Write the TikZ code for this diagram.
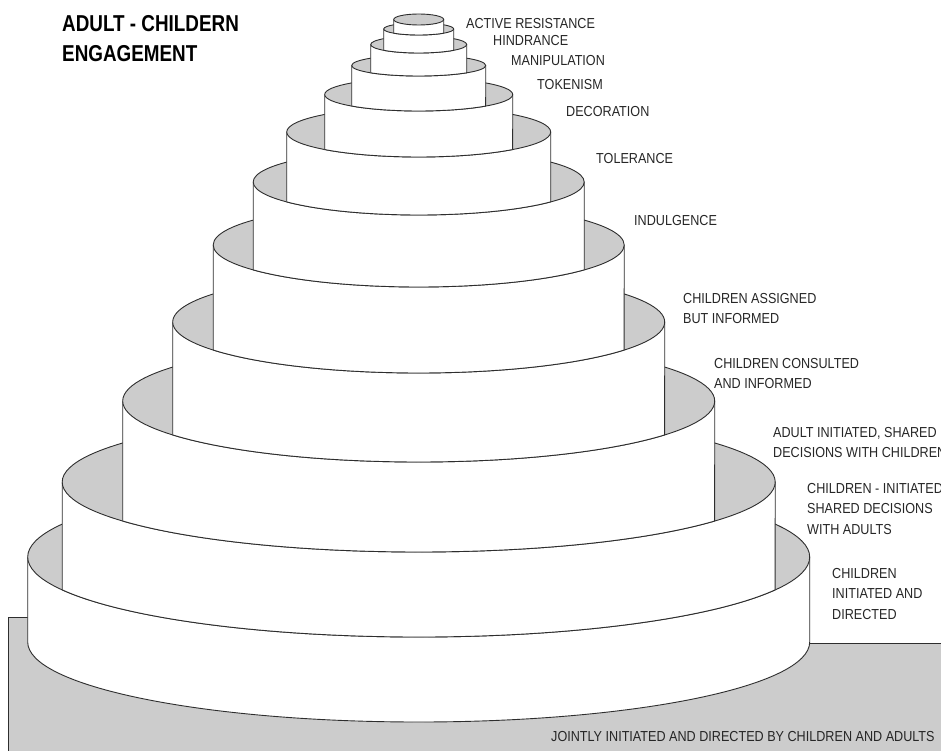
\documentclass[tikz,border=0pt]{standalone}
\usepackage{fontspec}
\newfontfamily\lblfont[FakeStretch=0.87]{Liberation Sans}
\newfontfamily\ttlfont[FakeStretch=0.82]{Liberation Sans}
\tikzset{
  edge/.style={draw=black!82, line width=0.9pt, line join=round},
  wallfill/.style={edge, fill=white},
  topfill/.style={edge, fill=black!20},
  lbl/.style={anchor=north west, inner sep=0pt, align=left, text=black!85,
    font=\lblfont\fontsize{14.5}{20.5}\selectfont},
  ttl/.style={anchor=north west, inner sep=0pt, align=left, text=black,
    font=\ttlfont\bfseries\fontsize{23}{30}\selectfont}
}
\begin{document}
\begin{tikzpicture}[x=1pt,y=1pt]
\useasboundingbox (0,0) rectangle (941,-751);
\begin{scope}
\clip (0,0) rectangle (941,-751);
\def\cx{418.7}
% ground plane
\path[topfill] (8,-617) -- (\cx,-617) -- (\cx,-643) -- (970,-643) -- (970,-790) -- (8,-790) -- cycle;
% bottom tier
\path[wallfill] (\cx-391,-557) -- (\cx-391,-642)
  arc[start angle=180, end angle=360, x radius=391, y radius=80]
  -- (\cx+391,-557) -- cycle;
\path[topfill] (\cx,-557) ellipse[x radius=391, y radius=80];
% upper tiers
\foreach \pr/\pt/\pb/\r/\t/\b in {
  391/557/80/356.5/482/70,
  356.5/482/70/296/401/61,
  296/401/61/246/322/51,
  246/322/51/205.5/245/42,
  205.5/245/42/165.5/182/33,
  165.5/182/33/132/132/25,
  132/132/25/94/94.5/16.5,
  94/94.5/16.5/67/65.5/10.5,
  67/65.5/10.5/48/44.5/8.5,
  48/44.5/8.5/35/29/6,
  35/29/6/25/19.5/5.5}{
  \pgfmathsetmacro\al{acos(\r/\pr)}
  \pgfmathsetmacro\yy{-\pt-\pb*sin(\al)}
  \pgfmathsetmacro\sa{180+\al}
  \pgfmathsetmacro\ea{360-\al}
  \path[wallfill] (\cx-\r,-\t) -- (\cx-\r,\yy)
    arc[start angle=\sa, end angle=\ea, x radius=\pr, y radius=\pb]
    -- (\cx+\r,-\t) -- cycle;
  \path[topfill] (\cx,-\t) ellipse[x radius=\r, y radius=\b];
}
% labels
\node[ttl] (title) at (62,-15) {ADULT - CHILDERN\\ENGAGEMENT};
\node[lbl] (l1) at (466,-18) {ACTIVE RESISTANCE};
\node[lbl] (l2) at (493,-35) {HINDRANCE};
\node[lbl] (l3) at (511,-55) {MANIPULATION};
\node[lbl] (l4) at (537,-79) {TOKENISM};
\node[lbl] (l5) at (566,-106) {DECORATION};
\node[lbl] (l6) at (596,-153) {TOLERANCE};
\node[lbl] (l7) at (634,-215) {INDULGENCE};
\node[lbl] (l8) at (683,-293) {CHILDREN ASSIGNED\\BUT INFORMED};
\node[lbl] (l9) at (714,-358) {CHILDREN CONSULTED\\AND INFORMED};
\node[lbl] (l10) at (773,-427) {ADULT INITIATED, SHARED\\DECISIONS WITH CHILDREN};
\node[lbl] (l11) at (807,-483) {CHILDREN - INITIATED\\SHARED DECISIONS\\WITH ADULTS};
\node[lbl] (l12) at (832,-568) {CHILDREN\\INITIATED AND\\DIRECTED};
\node[lbl] (l13) at (551,-731) {JOINTLY INITIATED AND DIRECTED BY CHILDREN AND ADULTS};
\end{scope}
\end{tikzpicture}
\end{document}
